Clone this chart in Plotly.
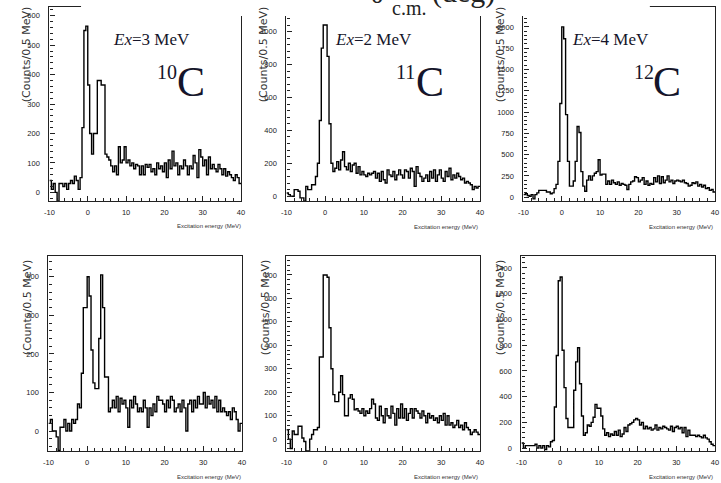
import numpy as np
import plotly.graph_objects as go

W, H = 721, 483

# ---------------- data ----------------
bin_low = -10.0
bin_width = 0.5
x_tick_vals = [-10, 0, 10, 20, 30, 40]
x_tick_text = ["-10", "0", "10", "20", "30", "40"]

ex_labels = ["Ex=3 MeV", "Ex=2 MeV", "Ex=4 MeV"]
nuclei_mass = ["10", "11", "12"]
nuclei_sym = "C"
y_title = "(Counts/0.5 MeV)"
x_title = "Excitation energy (MeV)"

c10_top = [40, 10, 30, 0, -30, 30, 30, 20, 30, 10,
           30, 40, 30, 55, 40, 10, 50, 220, 550, 565,
           365, 200, 130, 200, 200, 380, 380, 365, 365, 130,
           120, 110, 90, 70, 90, 60, 155, 100, 110, 155,
           100, 110, 90, 100, 80, 95, 90, 60, 90, 60,
           95, 85, 95, 70, 80, 60, 100, 80, 90, 70,
           100, 50, 110, 80, 140, 90, 100, 60, 90, 80,
           110, 90, 60, 90, 80, 125, 100, 50, 145, 120,
           90, 110, 60, 120, 80, 95, 80, 70, 95, 80,
           60, 80, 55, 70, 60, 50, 40, 60, 50, 30]

c11_top = [20, 10, 0, 0, 40, 40, 30, -10, -10, -30, 60, 40, 40, 70, 70, 120, 200, 460, 900, 1040,
           1040, 850, 440, 200, 150, 170, 210, 160, 220, 270, 180, 160, 200, 150, 190, 200, 140, 180, 130, 150,
           130, 120, 140, 130, 140, 150, 110, 140, 90, 150, 100, 80, 160, 130, 120, 150, 100, 130, 160, 130,
           110, 160, 150, 110, 170, 150, 60, 180, 140, 120, 90, 110, 130, 90, 150, 110, 160, 90, 130, 160,
           110, 90, 150, 120, 170, 100, 130, 110, 140, 120, 100, 110, 80, 90, 80, 70, 40, 60, 50, 60]

c12_top = [30, 40, 20, 10, 30, -20, 30, 50, 80, 80, 80, 80, 60, 60, 40, 50, 100, 150, 420, 1100,
           2000, 1860, 970, 420, 130, 130, 190, 420, 830, 760, 300, 130, 70, 200, 250, 200, 250, 280, 300, 440,
           260, 270, 270, 150, 190, 150, 200, 170, 150, 180, 140, 160, 150, 140, 90, 150, 180, 190, 240, 230,
           180, 200, 230, 150, 190, 140, 160, 150, 230, 180, 250, 160, 240, 170, 200, 250, 180, 200, 160, 190,
           200, 190, 180, 200, 170, 160, 130, 140, 170, 160, 180, 130, 150, 120, 140, 100, 110, 80, 90, 60]

c10_bot = [20, 30, 0, 0, -15, -50, 10, 10, 30, 0, 20, 0, 30, 20, 30, 70, 60, 150, 320, 320,
           400, 350, 210, 125, 110, 110, 240, 405, 320, 140, 140, 50, 60, 80, 60, 90, 50, 85, 70, 80,
           60, 10, 80, 60, 90, 70, 50, 60, 50, 80, 60, 10, 60, 40, 70, 50, 90, 80, 80, 70,
           50, 80, 60, 90, 80, 50, 60, 70, 50, 80, 60, 0, 70, 80, 50, 80, 60, 90, 70, 70,
           100, 60, 90, 70, 80, 60, 90, 50, 80, 50, 60, 50, 40, 50, 30, 60, 50, 30, 0, 20]

c11_bot = [40, 0, -40, 35, 20, 20, 55, 55, 5, -10, -50, -50, 0, 20, 40, 40, 50, 350, 350, 700,
           700, 690, 475, 300, 190, 160, 160, 200, 270, 190, 100, 100, 175, 190, 170, 125, 130, 120, 110, 130,
           100, 120, 110, 130, 170, 150, 90, 80, 140, 100, 70, 130, 100, 90, 140, 110, 60, 130, 90, 150,
           90, 130, 80, 110, 130, 90, 130, 120, 110, 90, 120, 100, 70, 110, 90, 100, 80, 90, 70, 100,
           80, 110, 60, 100, 60, 70, 50, 60, 80, 50, 60, 40, 70, 50, 40, 20, 30, 40, 30, 20]

c12_bot = [40, 0, 20, 20, 20, 20, 20, 30, 0, 20, 0, 20, -10, 20, 10, 50, 60, 320, 720, 1300,
           1330, 760, 470, 230, 160, 160, 160, 450, 670, 780, 500, 250, 100, 120, 180, 170, 200, 240, 340, 310,
           310, 250, 150, 100, 120, 90, 110, 100, 130, 100, 140, 90, 110, 160, 130, 180, 190, 200, 220, 230,
           220, 180, 200, 150, 170, 150, 160, 140, 150, 180, 140, 160, 150, 170, 160, 150, 140, 170, 130, 160,
           170, 150, 160, 120, 160, 90, 140, 100, 100, 100, 90, 100, 90, 80, 100, 80, 70, 50, 30, 20]

# ---------------- layout geometry (pixels) ----------------
panels = [
    dict(counts=c10_top, xpx=(45, 239), ypx=(7, 202), yr=(-30, 630), dt=100, mn=20),
    dict(counts=c11_top, xpx=(285, 481), ypx=(7, 202), yr=(-30, 1150), dt=200, mn=40),
    dict(counts=c12_top, xpx=(525, 719), ypx=(7, 202), yr=(-47, 2234), dt=250, mn=50),
    dict(counts=c10_bot, xpx=(44, 240), ypx=(257, 453), yr=(-52, 454), dt=100, mn=20),
    dict(counts=c11_bot, xpx=(285, 481), ypx=(257, 453), yr=(-51, 781), dt=100, mn=20),
    dict(counts=c12_bot, xpx=(523, 719), ypx=(257, 453), yr=(-23, 1493), dt=200, mn=40),
]

TICKFONT = dict(family="Liberation Sans, Arial, sans-serif", size=7.5, color="#222")
AXC = "#222"


def px(x):
    return x / W


def py(y):
    return 1 - y / H


fig = go.Figure()
layout = dict(width=W, height=H, margin=dict(l=0, r=0, t=0, b=0), autosize=False,
              paper_bgcolor="white", plot_bgcolor="white", showlegend=False)

for i, p in enumerate(panels):
    n = i + 1
    xk = "xaxis" if n == 1 else f"xaxis{n}"
    yk = "yaxis" if n == 1 else f"yaxis{n}"
    xref = "x" if n == 1 else f"x{n}"
    yref = "y" if n == 1 else f"y{n}"
    counts = p["counts"]
    edges = bin_low + bin_width * np.arange(len(counts) + 1)
    fig.add_trace(go.Scatter(x=edges, y=list(counts) + [counts[-1]], mode="lines",
                             line=dict(shape="hv", color="black", width=1.4),
                             xaxis=xref, yaxis=yref, hoverinfo="skip"))
    layout[xk] = dict(domain=[px(p["xpx"][0]), px(p["xpx"][1])], anchor=yref,
                      range=[-10, 40], tickmode="array", tickvals=x_tick_vals, ticktext=x_tick_text,
                      ticks="inside", ticklen=5, tickwidth=1, tickcolor=AXC,
                      minor=dict(dtick=2, ticks="inside", ticklen=3, tickcolor=AXC, showgrid=False),
                      showline=True, linewidth=1.2, linecolor=AXC, mirror=True,
                      showgrid=False, zeroline=False, tickfont=TICKFONT, ticklabelstandoff=4)
    layout[yk] = dict(domain=[py(p["ypx"][1]), py(p["ypx"][0])], anchor=xref,
                      range=list(p["yr"]), dtick=p["dt"], tick0=0,
                      ticks="inside", ticklen=5, tickwidth=1, tickcolor=AXC,
                      minor=dict(dtick=p["mn"], ticks="inside", ticklen=3, tickcolor=AXC, showgrid=False),
                      showline=True, linewidth=1.2, linecolor=AXC, mirror=True,
                      showgrid=False, zeroline=False, tickfont=TICKFONT, ticklabelstandoff=7)

fig.update_layout(**layout)

# white box hiding the top of the upper row (clipped page region)
fig.add_shape(type="rect", xref="paper", yref="paper", x0=px(77), x1=px(653), y0=py(16), y1=py(-2),
              fillcolor="white", line=dict(width=0), layer="above")

ann = []
SERIF = "Liberation Serif, Times New Roman, serif"
TXT = "#15152a"
# title fragment at top
ann.append(dict(text="θ", x=px(368), y=py(11.5), xanchor="left", yanchor="bottom",
                font=dict(family=SERIF, size=30, color="#222")))
ann.append(dict(text="c.m.", x=px(390), y=py(21), xanchor="left", yanchor="bottom",
                font=dict(family=SERIF, size=20, color="#222")))
ann.append(dict(text="(deg)", x=px(430), y=py(11.5), xanchor="left", yanchor="bottom",
                font=dict(family=SERIF, size=30, color="#222")))

ex_left = [107, 332, 572]
mass_left = [152, 394, 635]
sym_left = [172, 414, 654]
for k in range(3):
    lab = ex_labels[k]
    ann.append(dict(text="<i>Ex</i>" + lab[2:], x=px(ex_left[k]), y=py(51), xanchor="left",
                    yanchor="bottom", font=dict(family=SERIF, size=17, color=TXT)))
    ann.append(dict(text=nuclei_mass[k], x=px(mass_left[k]), y=py(85), xanchor="left",
                    yanchor="bottom", font=dict(family=SERIF, size=20, color=TXT)))
    ann.append(dict(text=nuclei_sym, x=px(sym_left[k]), y=py(107), xanchor="left",
                    yanchor="bottom", font=dict(family=SERIF, size=42, color=TXT)))

SANS = "DejaVu Sans, Liberation Sans, sans-serif"
ytitle_pos = [(22, 5), (262, 5), (502, 5), (23, 259), (264, 259), (502, 259)]
for (xx, yy) in ytitle_pos:
    ann.append(dict(text=y_title, x=px(xx), y=py(yy), xanchor="center", yanchor="top",
                    textangle=-90, font=dict(family=SANS, size=11, color="#333")))

xtitle_pos = [(241, 227), (481, 228), (719, 228), (241, 479), (481, 479), (719, 479)]
for (xx, yy) in xtitle_pos:
    ann.append(dict(text=x_title, x=px(xx), y=py(yy), xanchor="right", yanchor="middle",
                    font=dict(family="Liberation Sans, sans-serif", size=6, color="#333")))

for a in ann:
    a.update(xref="paper", yref="paper", showarrow=False)
fig.update_layout(annotations=ann)

fig.write_html("out.html", config={"displayModeBar": False},
               post_script="document.body.style.margin='0';document.body.style.overflow='hidden';")
